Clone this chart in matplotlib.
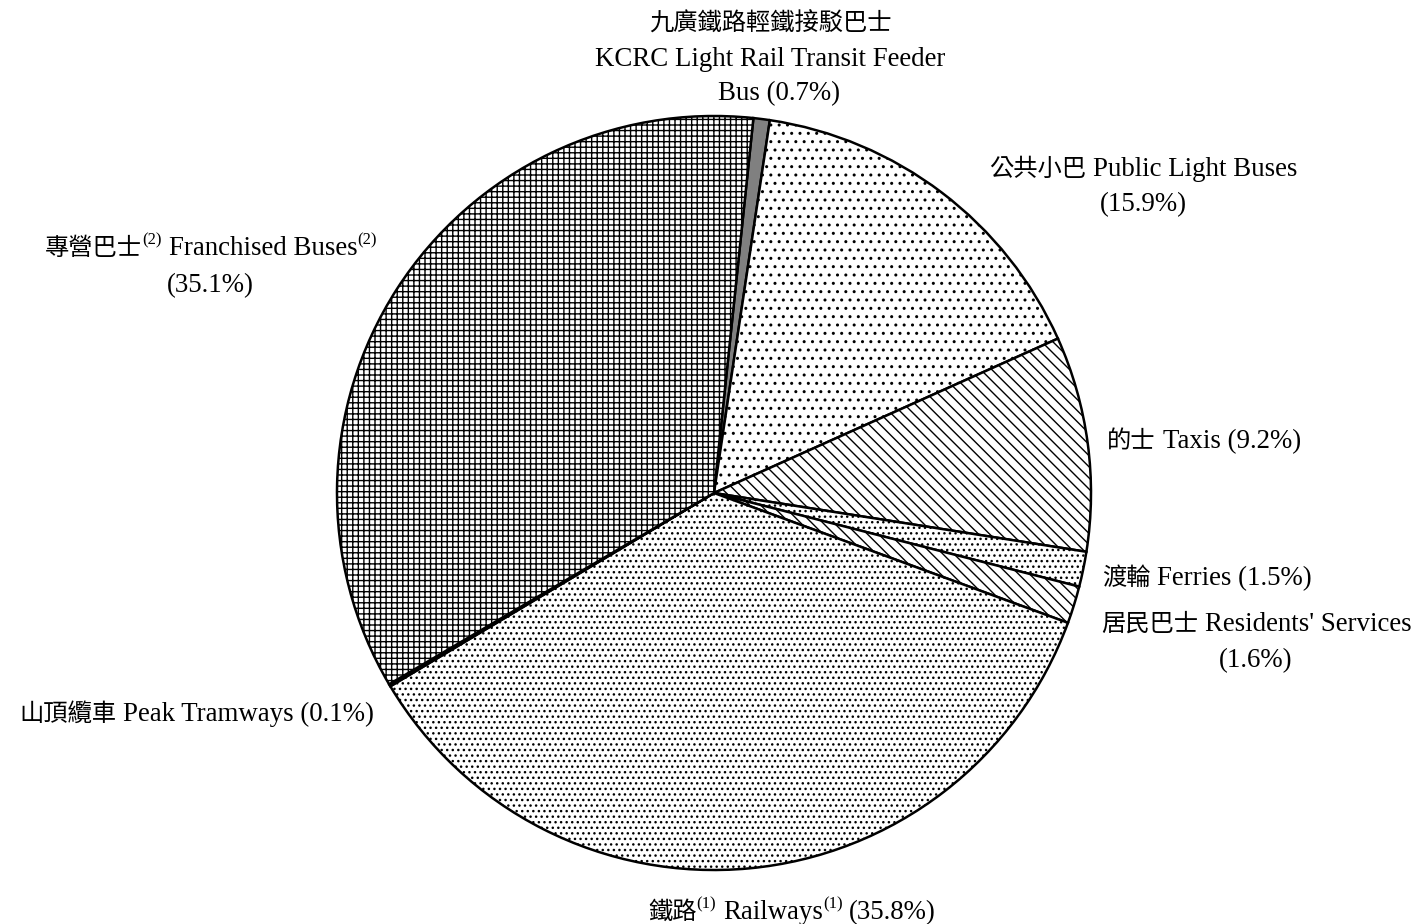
import matplotlib
matplotlib.use("Agg")
import matplotlib.pyplot as plt

# ---- data ----
categories = ["KCRC Light Rail Transit Feeder Bus", "Public Light Buses", "Taxis", "Ferries",
              "Residents' Services", "Railways", "Peak Tramways", "Franchised Buses"]
shares = [0.7, 15.9, 9.2, 1.5, 1.6, 35.8, 0.1, 35.1]
face_colors = ["#808080", "white", "white", "white", "white", "white", "white", "white"]
hatches = [None, "..", "\\\\\\", "...", "\\\\\\", "...", "...", "+++"]

W, H = 1419, 924
LAT = ["Liberation Serif", "Noto Sans CJK TC"]
CJK = ["Noto Sans CJK TC", "Liberation Serif"]
SIZES = {"l": 19.4, "c": 17.5, "s": 12}

plt.rcParams["hatch.linewidth"] = 1.0
plt.rcParams["hatch.color"] = "black"

fig = plt.figure(figsize=(W / 100, H / 100), dpi=100)

cx, cy, R = 714, 493, 377
lim = 1.03
ax = fig.add_axes([(cx - R * lim) / W, (H - cy - R * lim) / H, 2 * R * lim / W, 2 * R * lim / H])
wedges, _ = ax.pie(shares, startangle=84, counterclock=False, colors=face_colors,
                   wedgeprops=dict(edgecolor="black", linewidth=1.8), radius=1.0)
for w, h in zip(wedges, hatches):
    if h:
        w.set_hatch(h)
ax.set_xlim(-lim, lim)
ax.set_ylim(-lim, lim)
ax.set_aspect("equal")
ax.axis("off")

renderer = fig.canvas.get_renderer()


def props(kind):
    if kind == "c":
        return dict(fontsize=SIZES["c"], family=CJK, fontweight="light")
    return dict(fontsize=SIZES[kind], family=LAT)


def measure(s, kind):
    t = fig.text(0, 0, s, **props(kind))
    w = t.get_window_extent(renderer).width
    t.remove()
    return w


space_w = measure("a a", "l") - measure("aa", "l")


def line(xc, y_base, pieces):
    # pieces: list of (text, kind, space_after)
    widths = [measure(s, k) + (space_w if sp else 0) for s, k, sp in pieces]
    x = xc - sum(widths) / 2
    for (s, k, sp), wd in zip(pieces, widths):
        yy = y_base - (11 if k == "s" else 0)
        fig.text(x / W, 1 - yy / H, s, ha="left", va="baseline", **props(k))
        x += wd


line(770, 31, [("九廣鐵路輕鐵接駁巴士", "c", False)])
line(770, 66, [("KCRC Light Rail Transit Feeder", "l", False)])
line(779, 100, [("Bus (0.7%)", "l", False)])

line(1143, 176, [("公共小巴", "c", True), ("Public Light Buses", "l", False)])
line(1143, 211, [("(15.9%)", "l", False)])

line(1204, 448, [("的士", "c", True), ("Taxis (9.2%)", "l", False)])
line(1207, 585, [("渡輪", "c", True), ("Ferries (1.5%)", "l", False)])

line(1256, 631, [("居民巴士", "c", True), ("Residents' Services", "l", False)])
line(1256, 667, [("(1.6%)", "l", False)])

line(197, 721, [("山頂纜車", "c", True), ("Peak Tramways (0.1%)", "l", False)])

line(792, 919, [("鐵路", "c", False), ("(1)", "s", True), ("Railways", "l", False),
                ("(1)", "s", True), ("(35.8%)", "l", False)])

line(211, 255, [("專營巴士", "c", False), ("(2)", "s", True), ("Franchised Buses", "l", False),
                ("(2)", "s", False)])
line(210, 292, [("(35.1%)", "l", False)])

fig.savefig("out.png", dpi=100)
